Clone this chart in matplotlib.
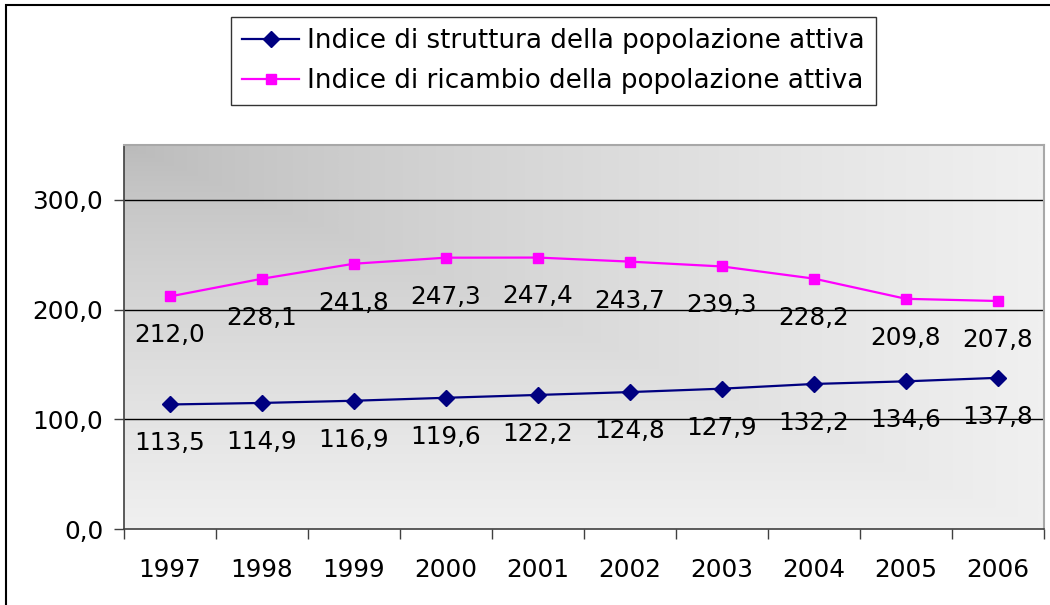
import numpy as np
import matplotlib
matplotlib.use("Agg")
import matplotlib.pyplot as plt
from matplotlib.patches import Rectangle
from matplotlib.colors import LinearSegmentedColormap

anni = ["1997", "1998", "1999", "2000", "2001", "2002", "2003", "2004", "2005", "2006"]
struttura = [113.5, 114.9, 116.9, 119.6, 122.2, 124.8, 127.9, 132.2, 134.6, 137.8]
ricambio = [212.0, 228.1, 241.8, 247.3, 247.4, 243.7, 239.3, 228.2, 209.8, 207.8]
y_ticks = [0, 100, 200, 300]

W, H = 1050, 605
fig = plt.figure(figsize=(W / 100, H / 100), dpi=100)
fig.patch.set_facecolor("white")

# area del grafico in pixel
left, right, top, bottom = 124, 1044, 145, 529
ax = fig.add_axes([left / W, 1 - bottom / H, (right - left) / W, (bottom - top) / H])

# sfondo sfumato dall'angolo in alto a sinistra
u = np.linspace(0, 1, 400)
v = np.linspace(0, 1, 200)
U, V = np.meshgrid(u, v)
t = np.clip(np.maximum(U, V) ** 0.75, 0, 1)
cmap = LinearSegmentedColormap.from_list("grigio", ["#bababa", "#f0f0f0"])
ax.imshow(t, cmap=cmap, extent=[0, 1, 0, 1], origin="upper", transform=ax.transAxes,
          aspect="auto", zorder=0, interpolation="bilinear")

x = np.arange(len(anni))
ax.plot(x, struttura, color="#000080", lw=1.6, marker="D", ms=7.8, zorder=3,
        label="Indice di struttura della popolazione attiva")
ax.plot(x, ricambio, color="#ff00ff", lw=1.6, marker="s", ms=7.8, zorder=3,
        label="Indice di ricambio della popolazione attiva")

fs = 17.8
for xi, v1, v2 in zip(x, struttura, ricambio):
    for val in (v1, v2):
        ax.annotate(f"{val:.1f}".replace(".", ","), (xi, val), xytext=(0, -28),
                    textcoords="offset points", ha="center", va="center",
                    fontsize=fs, color="black", zorder=4)

ax.set_xlim(-0.5, len(anni) - 0.5)
ax.set_ylim(0, 350)
ax.set_yticks(y_ticks)
ax.set_yticklabels([f"{v:.1f}".replace(".", ",") for v in y_ticks], fontsize=fs)
ax.set_xticks(x)
ax.set_xticklabels(anni, fontsize=fs)
ax.set_xticks(np.arange(-0.5, len(anni)), minor=True)
ax.tick_params(axis="x", which="major", length=0, pad=21)
ax.tick_params(axis="x", which="minor", length=7, width=1, color="#404040", direction="out")
ax.tick_params(axis="y", length=7, width=1, color="#404040", direction="out", pad=8)

for yv in y_ticks[1:]:
    ax.axhline(yv, color="black", lw=1, zorder=1)

for s in ("left", "bottom"):
    ax.spines[s].set_color("#404040")
    ax.spines[s].set_linewidth(1.2)
for s in ("top", "right"):
    ax.spines[s].set_color("#a8a8a8")
    ax.spines[s].set_linewidth(1.5)

leg = fig.legend(loc="upper left", bbox_to_anchor=(231 / W, 1 - 17 / H),
                 fontsize=18.8, frameon=True, fancybox=False, shadow=False,
                 handlelength=2.2, borderpad=0.42, labelspacing=0.55,
                 handletextpad=0.3, borderaxespad=0)
leg.get_frame().set_edgecolor("black")
leg.get_frame().set_linewidth(1.0)

# bordo esterno del grafico
fig.patches.append(Rectangle((6 / W, -0.1), 1.2, 1 - 5 / H + 0.1, transform=fig.transFigure,
                             fill=False, edgecolor="black", lw=1.5))

fig.savefig("out.png", dpi=100)
